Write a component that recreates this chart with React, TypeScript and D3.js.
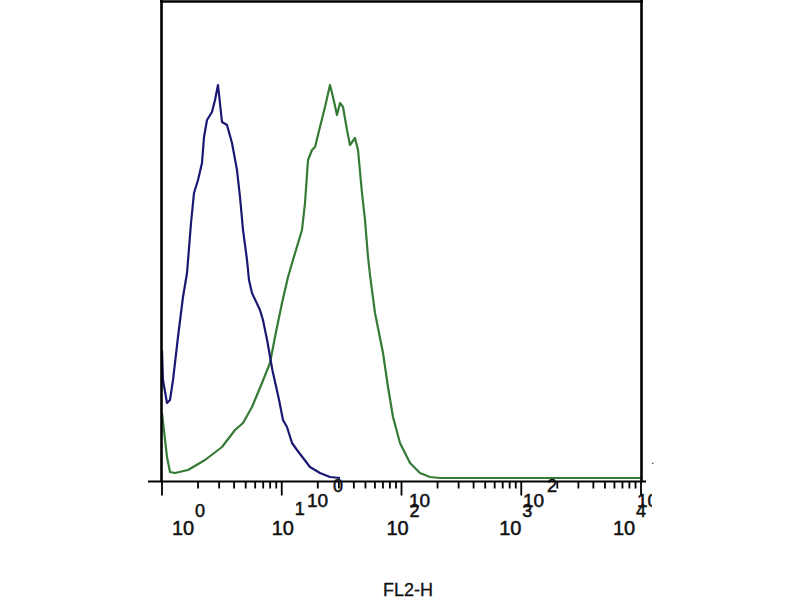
import React from "react";
import * as d3 from "d3";

// FL2-H channel values (log axis) and event counts
const blueFL2 = [1.0, 1.019, 1.101, 1.166, 1.236, 1.36, 1.497, 1.618, 1.747, 1.85, 1.998, 2.158, 2.243, 2.376, 2.615, 2.771, 2.935, 3.17, 3.49, 3.842, 4.23, 4.481, 4.748, 5.128, 5.328, 5.643, 6.58, 6.97, 7.6, 8.35, 9.5, 10.24, 11.06, 12.18, 13.41, 17.21, 20.86, 25.29, 30.65];
const blueCounts = [65, 50, 38.5, 40, 50, 71.5, 91.5, 103.5, 128.5, 143.5, 150, 158.5, 171.5, 180, 184, 190, 197.5, 179, 177.5, 168.5, 155, 141.5, 125, 110, 100, 93.5, 85, 80, 69, 55, 40, 30, 26.5, 18.5, 15, 6.5, 3.5, 1.5, 1];

const greenFL2 = [1.0, 1.101, 1.166, 1.284, 1.649, 2.286, 3.17, 4.07, 4.748, 5.643, 6.839, 7.978, 8.781, 10.05, 11.28, 12.41, 14.76, 15.64, 16.57, 17.89, 18.96, 20.86, 22.97, 25.29, 26.79, 28.93, 30.65, 32.47, 35.07, 37.15, 40.9, 43.33, 46.79, 49.57, 52.52, 54.58, 60.08, 70.07, 77.15, 84.92, 97.17, 117.8, 142.7, 173.0, 209.7, 1000, 10000];
const greenCounts = [33.5, 11.5, 4, 3.5, 5, 10, 16.5, 25, 28.5, 36.5, 48.5, 58.5, 71.5, 88.5, 101.5, 110, 125, 138.5, 160, 165, 166.5, 176.5, 186.5, 197.5, 191.5, 182.5, 188.5, 186.5, 175, 167.5, 171, 165, 143.5, 130, 111.5, 102.5, 83.5, 63.5, 46.5, 31.5, 18.5, 8.5, 3.5, 1.5, 1, 1, 1];

const decadeValues = [1, 10, 100, 1000, 10000];
const decadeExponents = ["0", "1", "2", "3", "4"];
// ghost (mis-registered) label layer seen in the scan
const ghostBases = ["10", "10", "10", "10"];
const ghostExponents = ["0", "", "2", ""];
const axisTitle = "FL2-H";

// layout constants
const X0 = 162, X1 = 641, AXIS_Y = 481.5;
const mainDx = [10, -10, -15, -22, -28];
const ghostX = [307, 409, 523, 637];
const ghostSupX = [333, 0, 547, 0];

export default function App() {
  const x = d3.scaleLog().domain([1, 10000]).range([X0, X1]);
  const y = d3.scaleLinear().domain([0, 240]).range([480, 0]);
  const line = d3.line<[number, number]>().x(d => x(d[0])).y(d => y(d[1])).curve(d3.curveLinear);
  const blue = line(blueFL2.map((v, i) => [v, blueCounts[i]] as [number, number])) || "";
  const green = line(greenFL2.map((v, i) => [v, greenCounts[i]] as [number, number])) || "";
  const ticks = x.ticks();
  const font = "'Liberation Sans', Arial, sans-serif";
  const txt = { fill: "#111", stroke: "#111", strokeWidth: 0.5 };
  return (
    <svg width={800} height={600} style={{ position: "absolute", left: 0, top: 0, background: "#fff" }} fontFamily={font}>
      <defs>
        <clipPath id="rclip"><rect x={0} y={0} width={652} height={600} /></clipPath>
      </defs>
      <rect x={0} y={0} width={800} height={600} fill="#fff" />
      <path d={green} fill="none" stroke="#357a35" strokeWidth={2.2} strokeLinejoin="round" />
      <path d={blue} fill="none" stroke="#1a1872" strokeWidth={2.2} strokeLinejoin="round" />
      {/* frame */}
      <line x1={161.5} x2={161.5} y1={0} y2={AXIS_Y} stroke="#000" strokeWidth={2.6} />
      <line x1={641.5} x2={641.5} y1={0} y2={AXIS_Y} stroke="#000" strokeWidth={2.6} />
      <line x1={160} x2={643} y1={1.5} y2={1.5} stroke="#000" strokeWidth={2.6} />
      <line x1={148} x2={646} y1={AXIS_Y} y2={AXIS_Y} stroke="#000" strokeWidth={2.2} />
      {ticks.map((t, i) => {
        const major = Math.abs(Math.log10(t) - Math.round(Math.log10(t))) < 1e-9;
        return (
          <line key={i} x1={x(t)} x2={x(t)} y1={AXIS_Y} y2={AXIS_Y + (major ? 14 : 7)} stroke="#000" strokeWidth={1.8} />
        );
      })}
      {/* ghost labels */}
      <g clipPath="url(#rclip)" {...txt}>
        {ghostBases.map((b, i) => (
          <text key={"g" + i} x={ghostX[i]} y={507} fontSize={19}>{b}</text>
        ))}
        {ghostExponents.map((e, i) => e ? (
          <text key={"ge" + i} x={ghostSupX[i]} y={492} fontSize={18}>{e}</text>
        ) : null)}
      </g>
      {/* main labels */}
      {decadeValues.map((v, i) => (
        <g key={"m" + i} {...txt}>
          <text x={x(v) + mainDx[i]} y={535} fontSize={20}>10</text>
          <text x={x(v) + mainDx[i] + 23} y={i === 1 ? 515 : 517} fontSize={18}>{decadeExponents[i]}</text>
        </g>
      ))}
      <text x={651} y={464} fontSize={12} fill="#333">.</text>
      <text x={383} y={596} fontSize={18} fill="#111" stroke="#111" strokeWidth={0.3}>{axisTitle}</text>
    </svg>
  );
}
